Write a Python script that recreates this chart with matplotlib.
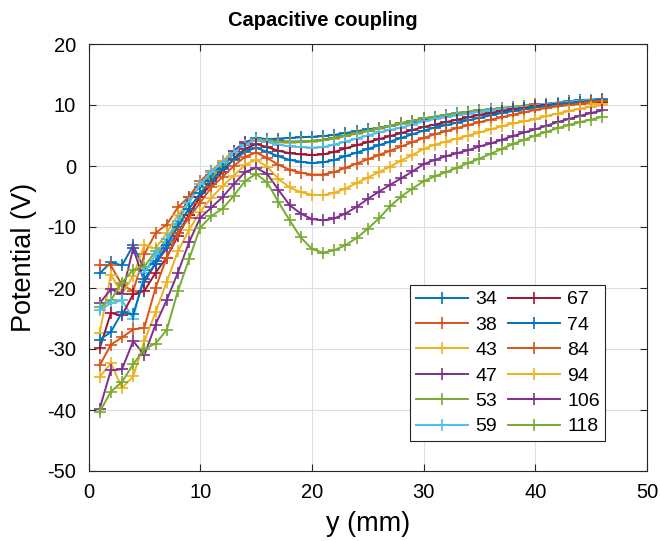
import matplotlib
matplotlib.use("Agg")
import matplotlib.pyplot as plt
import numpy as np

plt.rcParams['font.family'] = ['Liberation Sans', 'DejaVu Sans']
plt.rcParams['axes.unicode_minus'] = False

y_mm = list(range(1, 47))
labels = ["34", "38", "43", "47", "53", "59", "67", "74", "84", "94", "106", "118"]

s34 = [-17.6, -15.8, -16.3, -13.0, -17.0, -15.5, -12.0, -9.0, -5.0, -3.5, -1.5, 0.5, 2.5, 3.8, 4.6, 4.4, 4.5, 4.6, 4.7, 4.8, 4.9, 5.1, 5.4, 5.7, 6.0, 6.3, 6.6, 6.9, 7.2, 7.5, 7.8, 8.1, 8.4, 8.7, 9.0, 9.2, 9.4, 9.6, 9.8, 10.0, 10.2, 10.4, 10.6, 10.8, 10.9, 11.0]
s38 = [-16.2, -16.3, -19.5, -20.5, -14.5, -11.0, -9.6, -6.8, -5.0, -2.5, -0.8, 0.8, 2.4, 3.6, 4.2, 4.0, 3.9, 3.9, 4.0, 4.1, 4.3, 4.6, 5.0, 5.4, 5.8, 6.2, 6.6, 7.0, 7.4, 7.8, 8.1, 8.4, 8.7, 8.9, 9.1, 9.3, 9.5, 9.7, 9.9, 10.1, 10.2, 10.3, 10.4, 10.5, 10.6, 10.7]
s43 = [-27.4, -17.8, -21.0, -18.0, -13.0, -13.5, -11.0, -8.0, -6.0, -3.0, -1.0, 0.8, 2.5, 3.5, 4.3, 4.1, 3.9, 3.8, 3.9, 4.0, 4.2, 4.5, 4.9, 5.3, 5.7, 6.1, 6.5, 6.9, 7.3, 7.6, 7.9, 8.2, 8.5, 8.7, 8.9, 9.1, 9.3, 9.5, 9.6, 9.7, 9.8, 9.9, 10.0, 10.1, 10.2, 10.3]
s47 = [-22.5, -20.2, -21.0, -13.5, -19.0, -16.0, -13.5, -11.0, -8.0, -5.0, -2.5, -0.3, 2.5, 3.9, 4.5, 4.3, 4.1, 4.0, 4.0, 4.1, 4.3, 4.6, 5.0, 5.4, 5.8, 6.2, 6.6, 7.0, 7.4, 7.7, 8.0, 8.3, 8.6, 8.8, 9.0, 9.2, 9.4, 9.6, 9.8, 10.0, 10.1, 10.2, 10.3, 10.4, 10.5, 10.5]
s53 = [-23.1, -22.0, -19.1, -17.0, -16.5, -14.0, -12.5, -9.5, -7.0, -4.5, -2.0, 0.0, 2.0, 3.5, 4.4, 4.2, 4.0, 4.0, 4.0, 4.1, 4.2, 4.6, 5.0, 5.4, 5.8, 6.2, 6.6, 7.0, 7.4, 7.8, 8.1, 8.4, 8.7, 8.9, 9.1, 9.3, 9.5, 9.7, 9.9, 10.0, 10.1, 10.2, 10.3, 10.4, 10.5, 10.6]
s59 = [-23.6, -22.5, -22.0, -25.0, -17.5, -14.5, -12.0, -9.0, -6.0, -3.0, -1.0, 0.5, 2.2, 3.5, 4.3, 3.9, 3.5, 3.2, 3.1, 3.0, 3.1, 3.5, 4.0, 4.5, 5.0, 5.5, 5.9, 6.3, 6.8, 7.3, 7.7, 8.0, 8.3, 8.6, 8.9, 9.1, 9.3, 9.5, 9.7, 9.9, 10.1, 10.3, 10.5, 10.7, 10.8, 10.9]
s67 = [-29.9, -24.1, -24.5, -21.0, -20.5, -17.5, -15.0, -11.5, -8.0, -5.0, -3.0, -1.0, 1.2, 2.8, 3.6, 3.1, 2.5, 2.1, 1.9, 1.8, 1.9, 2.3, 2.9, 3.4, 3.9, 4.4, 4.9, 5.4, 5.9, 6.4, 6.8, 7.2, 7.6, 8.0, 8.4, 8.7, 9.0, 9.3, 9.5, 9.8, 10.0, 10.2, 10.3, 10.4, 10.5, 10.5]
s74 = [-28.5, -27.2, -24.0, -24.3, -18.5, -16.0, -13.0, -10.0, -7.0, -4.5, -2.5, -0.5, 1.0, 2.3, 3.0, 2.3, 1.6, 1.0, 0.7, 0.5, 0.6, 1.0, 1.6, 2.2, 2.8, 3.4, 4.0, 4.6, 5.2, 5.8, 6.3, 6.7, 7.1, 7.5, 7.9, 8.3, 8.7, 9.0, 9.3, 9.6, 9.9, 10.1, 10.3, 10.5, 10.7, 10.9]
s84 = [-32.7, -29.3, -28.1, -26.8, -26.5, -20.0, -15.0, -11.0, -8.5, -6.0, -3.5, -1.8, 0.0, 1.5, 2.2, 1.3, 0.2, -0.6, -1.1, -1.4, -1.4, -1.0, -0.3, 0.4, 1.1, 1.8, 2.5, 3.2, 3.9, 4.6, 5.2, 5.7, 6.2, 6.7, 7.2, 7.6, 8.0, 8.4, 8.8, 9.2, 9.5, 9.8, 10.0, 10.2, 10.5, 10.7]
s94 = [-34.6, -32.3, -36.4, -34.5, -28.7, -24.0, -19.0, -14.0, -10.5, -7.5, -5.2, -3.3, -1.6, 0.2, 1.0, -0.1, -2.1, -3.5, -4.3, -4.7, -4.8, -4.4, -3.7, -2.8, -1.9, -1.0, -0.1, 0.9, 1.8, 2.8, 3.5, 4.0, 4.5, 5.0, 5.5, 6.0, 6.5, 7.0, 7.3, 7.7, 8.2, 8.6, 9.0, 9.4, 9.7, 10.0]
s106 = [-39.8, -33.5, -33.3, -28.7, -31.0, -26.0, -22.0, -17.5, -12.5, -8.5, -6.8, -5.1, -3.0, -1.0, -0.3, -1.3, -3.9, -6.4, -7.8, -8.7, -8.9, -8.6, -7.8, -6.7, -5.4, -4.2, -3.1, -2.0, -0.9, 0.3, 1.0, 1.6, 2.1, 2.6, 3.2, 3.7, 4.3, 4.9, 5.5, 6.0, 6.6, 7.2, 7.7, 8.2, 8.7, 9.1]
s118 = [-40.3, -37.0, -35.4, -32.5, -30.0, -29.1, -26.9, -20.5, -15.3, -10.1, -8.2, -7.0, -4.9, -2.5, -1.3, -2.7, -5.9, -8.9, -11.7, -13.6, -14.2, -13.8, -13.0, -11.8, -10.3, -8.6, -6.6, -5.0, -3.7, -2.5, -1.7, -1.0, -0.3, 0.5, 1.2, 2.0, 2.8, 3.6, 4.3, 5.0, 5.6, 6.2, 6.7, 7.2, 7.6, 8.1]

series = [s34, s38, s43, s47, s53, s59, s67, s74, s84, s94, s106, s118]
colors = ["#0072BD", "#D95319", "#EDB120", "#7E2F8E", "#77AC30", "#4DBEEE", "#A2142F"]

fig = plt.figure(figsize=(6.6, 5.41), dpi=100)
ax = fig.add_axes([88.5/660, 1 - 471/541, (647 - 88.5)/660, (471 - 44)/541])

for i, (vals, lab) in enumerate(zip(series, labels)):
    ax.plot(y_mm, vals, color=colors[i % 7], marker='+', markersize=8,
            markeredgewidth=1.2, linewidth=1.4, label=lab)

ax.set_xlim(0, 50)
ax.set_ylim(-50, 20)
ax.set_xticks(np.arange(0, 51, 10))
ax.set_yticks(np.arange(-50, 21, 10))
ax.grid(True, color='#dfdfdf', linewidth=0.8)
ax.set_axisbelow(True)
spine_c = '#262626'
for sp in ax.spines.values():
    sp.set_color(spine_c)
    sp.set_linewidth(0.8)
ax.tick_params(direction='in', top=True, right=True, length=5, width=0.8,
               colors=spine_c, labelcolor='black', labelsize=14.5, pad=9)
ax.set_xlabel('y (mm)', fontsize=19.5, labelpad=6)
ax.set_ylabel('Potential (V)', fontsize=19.5, labelpad=7)
fig.text(323/660, 1 - 20/541, 'Capacitive coupling', fontsize=14.5,
         fontweight='bold', ha='center', va='center')

leg = ax.legend(ncol=2, loc='upper left', bbox_to_anchor=(410/660, 1 - 285/541),
                bbox_transform=fig.transFigure, fontsize=14, handlelength=2.7,
                columnspacing=0.55, handletextpad=0.35, labelspacing=0.4,
                fancybox=False, framealpha=1, borderpad=0.3, borderaxespad=0)
leg.get_frame().set_edgecolor('#262626')
leg.get_frame().set_linewidth(0.8)

fig.savefig('out.png', dpi=100)
